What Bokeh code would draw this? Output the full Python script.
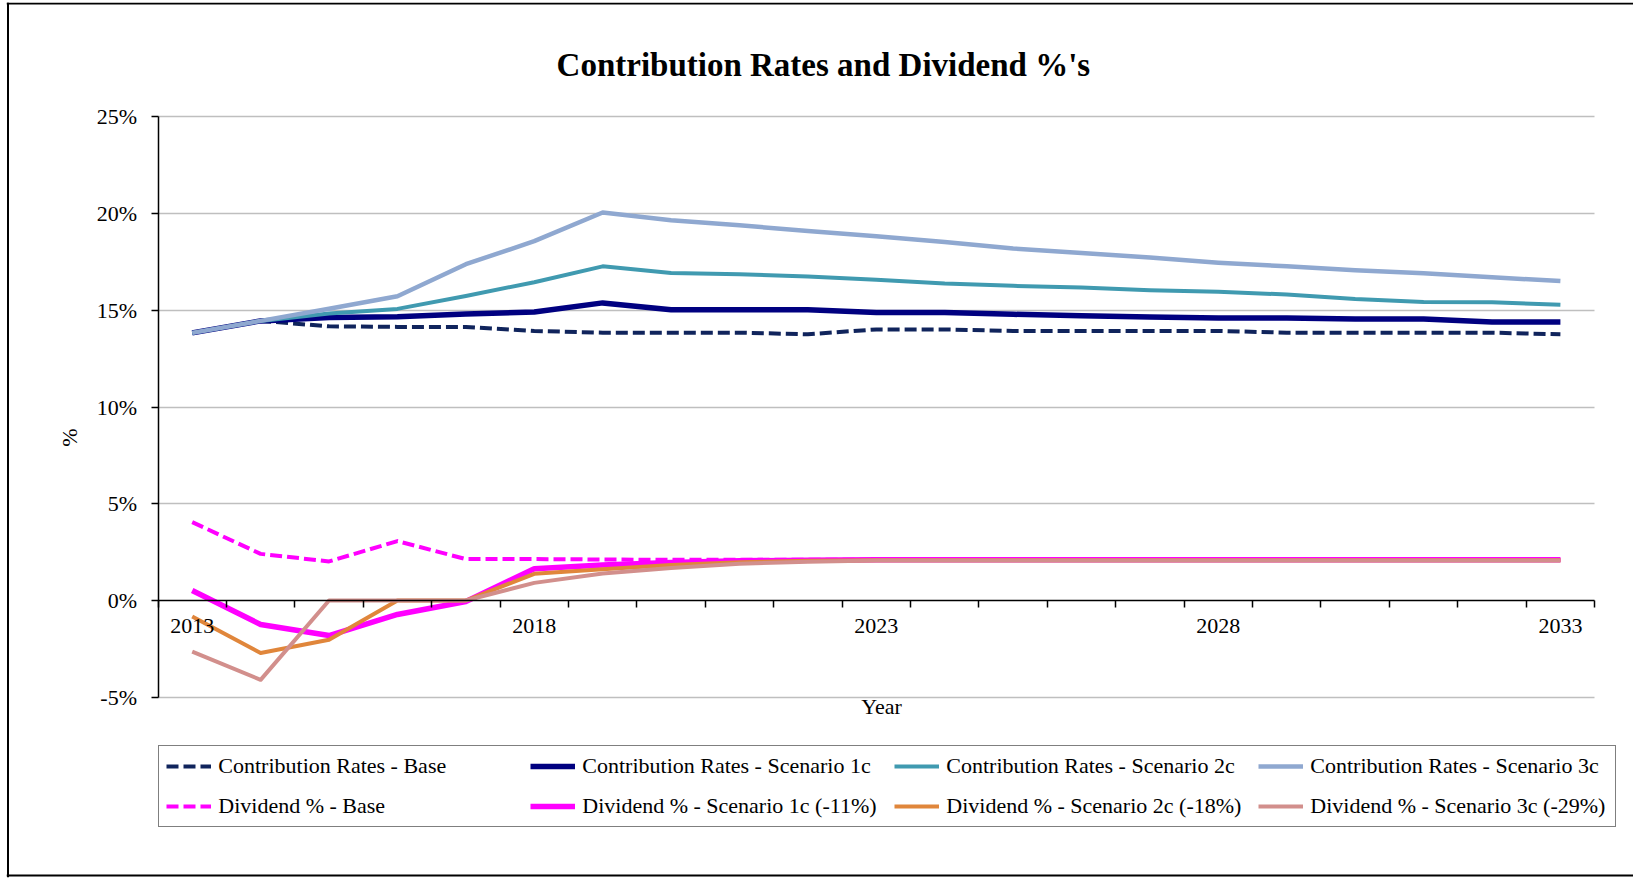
import math
from bokeh.plotting import figure
from bokeh.models import (Range1d, LinearAxis, FixedTicker, Grid, Legend,
                          LegendItem, Label, Span)
from bokeh.embed import file_html
from bokeh.resources import INLINE

# ---------------- data (percent) ----------------
years = [2013, 2014, 2015, 2016, 2017, 2018, 2019, 2020, 2021, 2022, 2023,
         2024, 2025, 2026, 2027, 2028, 2029, 2030, 2031, 2032, 2033]

cr_base = [13.83, 14.45, 14.17, 14.14, 14.14, 13.93, 13.84, 13.84, 13.84, 13.76, 14.01,
           14.01, 13.93, 13.93, 13.93, 13.93, 13.84, 13.84, 13.84, 13.84, 13.76]
cr_1c = [13.83, 14.45, 14.62, 14.67, 14.81, 14.91, 15.38, 15.03, 15.03, 15.03, 14.88,
         14.88, 14.79, 14.72, 14.65, 14.60, 14.60, 14.55, 14.55, 14.39, 14.39]
cr_2c = [13.83, 14.45, 14.83, 15.07, 15.74, 16.45, 17.27, 16.93, 16.86, 16.74, 16.58,
         16.38, 16.26, 16.17, 16.03, 15.96, 15.81, 15.58, 15.43, 15.41, 15.29]
cr_3c = [13.83, 14.45, 15.08, 15.72, 17.38, 18.57, 20.05, 19.65, 19.39, 19.10, 18.82,
         18.53, 18.19, 17.96, 17.72, 17.46, 17.27, 17.07, 16.91, 16.70, 16.51]

div_base = [4.05, 2.41, 2.02, 3.07, 2.14, 2.14, 2.12, 2.10, 2.10, 2.10, 2.10,
            2.10, 2.10, 2.10, 2.10, 2.10, 2.10, 2.10, 2.10, 2.10, 2.10]
div_1c = [0.52, -1.24, -1.81, -0.72, -0.05, 1.64, 1.84, 1.97, 2.05, 2.08, 2.10,
          2.10, 2.10, 2.10, 2.10, 2.10, 2.10, 2.10, 2.10, 2.10, 2.10]
div_2c = [-0.83, -2.71, -2.03, 0.00, 0.00, 1.38, 1.62, 1.84, 1.98, 2.05, 2.08,
          2.08, 2.08, 2.08, 2.08, 2.08, 2.08, 2.08, 2.08, 2.08, 2.08]
div_3c = [-2.64, -4.10, 0.00, 0.00, 0.00, 0.91, 1.40, 1.68, 1.90, 2.00, 2.07,
          2.07, 2.07, 2.07, 2.07, 2.07, 2.07, 2.07, 2.07, 2.07, 2.07]

y_ticks = [-5, 0, 5, 10, 15, 20, 25]
y_tick_labels = ["-5%", "0%", "5%", "10%", "15%", "20%", "25%"]
x_label_years = [2013, 2018, 2023, 2028, 2033]
x_tick_labels = ["2013", "2018", "2023", "2028", "2033"]

series_names = ["Contribution Rates - Base", "Contribution Rates - Scenario 1c",
                "Contribution Rates - Scenario 2c", "Contribution Rates - Scenario 3c",
                "Dividend % - Base", "Dividend % - Scenario 1c (-11%)",
                "Dividend % - Scenario 2c (-18%)", "Dividend % - Scenario 3c (-29%)"]

title_text = "Contribution Rates and  Dividend %'s"
x_title = "Year"
y_title = "%"

# ---------------- layout helpers (page px -> data) ----------------
W, H = 1633, 879
FL, FR, FT, FB = 6, 1633, 2, 877
X0_PX, X_PER = 157.5, 68.41
Y0_PX, Y_PER = 600.0, 19.35

def fx(px):
    return years[0] - 0.5 + (px - X0_PX) / X_PER

def fy(py):
    return (Y0_PX - py) / Y_PER

FONT = "Liberation Serif"

p = figure(width=W, height=H,
           x_range=Range1d(fx(FL), fx(FR)), y_range=Range1d(fy(FB), fy(FT)),
           x_axis_type=None, y_axis_type=None,
           output_backend="svg", toolbar_location=None,
           min_border_left=FL, min_border_right=W - FR,
           min_border_top=FT, min_border_bottom=H - FB)
p.outline_line_color = None
p.background_fill_color = "white"
p.border_fill_color = "white"

x_lo, x_hi = years[0] - 0.5, years[-1] + 0.5

# grid (no line at 0 - the axis sits there)
grid = Grid(dimension=1, ticker=FixedTicker(ticks=[t for t in y_ticks if t != 0]),
            bounds=(y_ticks[0], y_ticks[-1]), cross_bounds=(x_lo, x_hi),
            grid_line_color="#bfbfbf", grid_line_width=1.5)
p.add_layout(grid)

# y axis
yax = LinearAxis(ticker=FixedTicker(ticks=y_ticks), fixed_location=x_lo,
                 bounds=(y_ticks[0], y_ticks[-1]),
                 major_label_overrides=dict(zip(y_ticks, y_tick_labels)))
yax.axis_line_color = "black"
yax.axis_line_width = 1.5
yax.major_tick_line_color = "black"
yax.major_tick_line_width = 1.5
yax.major_tick_out = 7
yax.major_tick_in = 0
yax.minor_tick_line_color = None
yax.major_label_standoff = 14
yax.major_label_text_font = FONT
yax.major_label_text_font_size = "22px"
yax.major_label_text_color = "black"
p.add_layout(yax, "left")

# x axis at 0%
xax = LinearAxis(ticker=FixedTicker(ticks=x_label_years,
                                    minor_ticks=[y - 0.5 for y in years] + [x_hi]),
                 fixed_location=0, bounds=(x_lo, x_hi),
                 major_label_overrides=dict(zip(x_label_years, x_tick_labels)))
xax.axis_line_color = "black"
xax.axis_line_width = 1.5
xax.major_tick_out = 0
xax.major_tick_in = 0
xax.major_tick_line_color = None
xax.minor_tick_line_color = "black"
xax.minor_tick_line_width = 1.5
xax.minor_tick_out = 7
xax.minor_tick_in = 0
xax.major_label_standoff = 11
xax.major_label_text_font = FONT
xax.major_label_text_font_size = "22px"
xax.major_label_text_color = "black"
p.add_layout(xax, "below")

# series
DASH = "12 5"
styles = [
    (cr_base, "#10245c", 4, DASH),
    (cr_1c, "#000080", 5.5, "solid"),
    (cr_2c, "#409ab0", 4, "solid"),
    (cr_3c, "#8fa8d0", 4.5, "solid"),
    (div_base, "#ff00ff", 4, DASH),
    (div_1c, "#ff00ff", 5.5, "solid"),
    (div_2c, "#e0863b", 4, "solid"),
    (div_3c, "#d28f8c", 4, "solid"),
]
renderers = []
for vals, col, lw, dash in styles:
    r = p.line(years, vals, line_color=col, line_width=lw, line_dash=dash,
               line_join="round")
    renderers.append(r)

legend = Legend(items=[LegendItem(label=n, renderers=[r]) for n, r in zip(series_names, renderers)],
                location=(158.3 - FL, FB - 827.3), orientation="horizontal", ncols=4)
legend.padding = 7
legend.spacing = 14
legend.margin = 0
legend.glyph_width = 45
legend.glyph_height = 24
legend.label_height = 24
legend.label_width = 298
legend.label_standoff = 7
legend.label_text_font = FONT
legend.label_text_font_size = "22px"
legend.label_text_color = "black"
legend.label_text_baseline = "middle"
legend.border_line_color = "black"
legend.border_line_width = 1.5
legend.background_fill_color = "white"
legend.background_fill_alpha = 1.0
p.add_layout(legend)

# titles
p.add_layout(Label(x=fx(827), y=fy(64), text=title_text, text_font=FONT,
                   text_font_size="33px", text_font_style="bold", text_color="black",
                   text_align="center", text_baseline="middle"))
p.add_layout(Label(x=fx(881), y=fy(706), text=x_title, text_font=FONT,
                   text_font_size="22px", text_color="black",
                   text_align="center", text_baseline="middle"))
p.add_layout(Label(x=fx(69), y=fy(437), text=y_title, text_font=FONT,
                   text_font_size="22px", text_color="black", angle=math.pi / 2,
                   text_align="center", text_baseline="middle"))

# outer chart border
p.add_layout(Span(location=fy(3), dimension="width", line_color="black", line_width=2))
p.add_layout(Span(location=fy(875), dimension="width", line_color="black", line_width=2))
p.add_layout(Span(location=fx(7.5), dimension="height", line_color="black", line_width=2))

open("out.html", "w").write(file_html(p, INLINE))
